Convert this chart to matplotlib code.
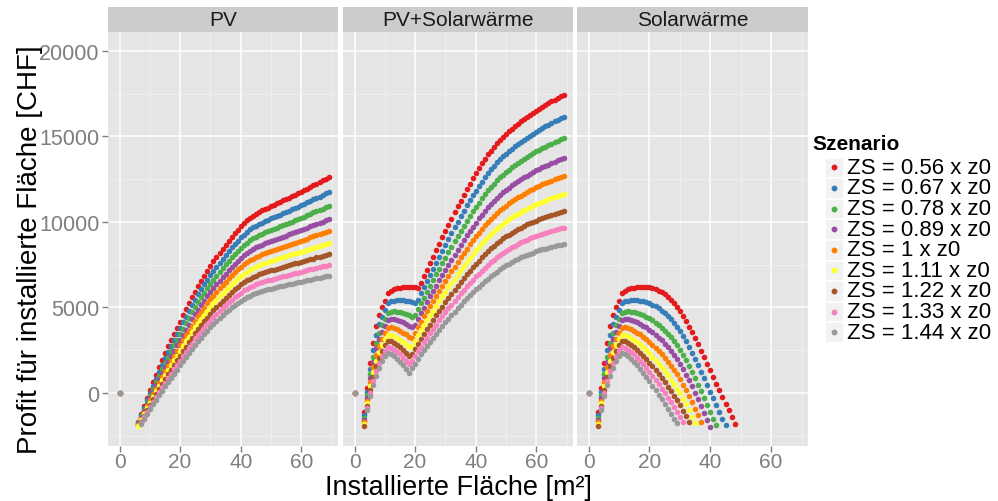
import numpy as np
import matplotlib.pyplot as plt
from matplotlib.patches import Rectangle

plt.rcParams['font.family'] = ['Liberation Sans', 'DejaVu Sans']

szenarien = ['ZS = 0.56 x z0', 'ZS = 0.67 x z0', 'ZS = 0.78 x z0', 'ZS = 0.89 x z0',
             'ZS = 1 x z0', 'ZS = 1.11 x z0', 'ZS = 1.22 x z0', 'ZS = 1.33 x z0',
             'ZS = 1.44 x z0']
farben = ['#E41A1C', '#377EB8', '#4DAF4A', '#984EA3', '#FF7F00',
          '#FFFF33', '#A65628', '#F781BF', '#999999']
facetten = ['PV', 'PV+Solarwärme', 'Solarwärme']

# no installation -> no profit
flaeche_null = 0
profit_null = 0

# profit in CHF per installed area, 1 m2 steps; first area of each list below
start_pv = 6
profit_pv = [
    [-1670, -1210, -750, -290, 170, 620, 1060, 1500, 1940, 2340,
     2720, 3090, 3460, 3820, 4170, 4530, 4880, 5240, 5590, 5930,
     6250, 6560, 6860, 7150, 7430, 7700, 7950, 8190, 8430, 8660,
     8900, 9130, 9350, 9550, 9750, 9930, 10090, 10240, 10370, 10480,
     10580, 10670, 10760, 10840, 10920, 11010, 11090, 11170, 11260, 11340,
     11420, 11510, 11590, 11670, 11760, 11850, 11950, 12040, 12140, 12230,
     12320, 12420, 12510, 12600],
    [-1740, -1300, -860, -430, 0, 420, 840, 1250, 1660, 2050,
     2410, 2760, 3110, 3450, 3790, 4120, 4460, 4800, 5130, 5460,
     5760, 6060, 6350, 6620, 6890, 7150, 7390, 7620, 7840, 8070,
     8290, 8510, 8710, 8910, 9090, 9260, 9420, 9560, 9680, 9780,
     9880, 9960, 10040, 10120, 10200, 10280, 10360, 10430, 10510, 10590,
     10660, 10740, 10820, 10890, 10970, 11050, 11140, 11230, 11310, 11400,
     11480, 11570, 11660, 11740],
    [-1800, -1380, -970, -560, -150, 250, 640, 1020, 1410, 1770,
     2110, 2450, 2780, 3110, 3430, 3750, 4070, 4390, 4710, 5020,
     5310, 5590, 5870, 6130, 6390, 6630, 6860, 7090, 7300, 7510,
     7730, 7930, 8130, 8310, 8480, 8640, 8790, 8920, 9040, 9130,
     9220, 9300, 9380, 9450, 9520, 9600, 9670, 9740, 9810, 9880,
     9950, 10020, 10090, 10160, 10230, 10310, 10390, 10470, 10550, 10620,
     10700, 10780, 10860, 10930],
    [-1850, -1460, -1070, -680, -300, 70, 440, 800, 1160, 1510,
     1830, 2150, 2470, 2780, 3080, 3390, 3690, 4000, 4300, 4600,
     4870, 5140, 5400, 5650, 5900, 6140, 6360, 6570, 6780, 6980,
     7180, 7370, 7560, 7730, 7890, 8040, 8180, 8310, 8420, 8510,
     8590, 8670, 8740, 8810, 8870, 8940, 9010, 9070, 9140, 9200,
     9270, 9330, 9400, 9460, 9520, 9590, 9670, 9740, 9810, 9880,
     9950, 10020, 10090, 10150],
    [-1900, -1530, -1160, -790, -430, -80, 260, 610, 950, 1270,
     1580, 1890, 2190, 2480, 2780, 3070, 3360, 3650, 3940, 4220,
     4480, 4740, 4990, 5230, 5470, 5690, 5910, 6110, 6310, 6510,
     6700, 6880, 7050, 7220, 7370, 7510, 7640, 7760, 7860, 7950,
     8030, 8100, 8170, 8230, 8290, 8360, 8420, 8480, 8540, 8600,
     8660, 8720, 8780, 8830, 8890, 8960, 9020, 9090, 9150, 9210,
     9280, 9340, 9400, 9460],
    [-1960, -1600, -1250, -900, -560, -230, 90, 410, 730, 1040,
     1330, 1620, 1910, 2190, 2470, 2750, 3030, 3300, 3570, 3840,
     4100, 4340, 4580, 4810, 5040, 5250, 5460, 5660, 5850, 6030,
     6210, 6380, 6550, 6700, 6850, 6980, 7100, 7210, 7310, 7390,
     7470, 7540, 7600, 7660, 7720, 7770, 7830, 7890, 7940, 8000,
     8050, 8100, 8160, 8210, 8260, 8320, 8380, 8440, 8490, 8550,
     8610, 8670, 8720, 8770],
    [-2010, -1670, -1340, -1010, -690, -380, -80, 220, 520, 810,
     1090, 1370, 1640, 1910, 2170, 2440, 2700, 2970, 3230, 3480,
     3720, 3960, 4190, 4400, 4620, 4830, 5030, 5220, 5400, 5580,
     5750, 5910, 6070, 6210, 6350, 6470, 6590, 6690, 6780, 6860,
     6930, 6990, 7050, 7110, 7160, 7210, 7270, 7320, 7370, 7420,
     7470, 7520, 7570, 7610, 7660, 7710, 7760, 7810, 7860, 7920,
     7970, 8020, 8060, 8110],
    [-2050, -1740, -1420, -1110, -810, -520, -240, 40, 320, 600,
     860, 1120, 1390, 1640, 1890, 2140, 2400, 2650, 2890, 3140,
     3370, 3590, 3810, 4020, 4230, 4420, 4610, 4800, 4980, 5140,
     5300, 5450, 5600, 5740, 5870, 5990, 6090, 6190, 6280, 6350,
     6420, 6470, 6530, 6580, 6630, 6680, 6730, 6770, 6820, 6860,
     6910, 6950, 7000, 7040, 7080, 7120, 7170, 7220, 7260, 7310,
     7350, 7400, 7440, 7470],
    [-2100, -1800, -1500, -1210, -930, -660, -400, -140, 120, 380,
     630, 880, 1130, 1370, 1610, 1850, 2090, 2330, 2560, 2790,
     3010, 3220, 3430, 3630, 3830, 4020, 4200, 4380, 4550, 4710,
     4860, 5000, 5140, 5270, 5390, 5500, 5600, 5690, 5770, 5840,
     5900, 5960, 6010, 6060, 6100, 6150, 6190, 6230, 6270, 6310,
     6350, 6390, 6430, 6470, 6500, 6540, 6580, 6620, 6660, 6700,
     6740, 6780, 6810, 6840],
]

start_kombi = 3
profit_kombi = [
    [-1100, 300, 1750, 2950, 3900, 4550, 5000, 5400, 5850, 5980,
     6060, 6120, 6160, 6190, 6210, 6210, 6200, 6170, 6120, 6450,
     6830, 7210, 7590, 7970, 8350, 8720, 9090, 9460, 9830, 10190,
     10550, 10900, 11250, 11590, 11920, 12240, 12550, 12850, 13140, 13420,
     13690, 13940, 14170, 14390, 14600, 14790, 14970, 15140, 15300, 15450,
     15600, 15740, 15880, 16010, 16140, 16270, 16390, 16510, 16620, 16730,
     16840, 16950, 17050, 17150, 17250, 17350, 17440],
    [-1280, 80, 1420, 2530, 3410, 4020, 4460, 4850, 5260, 5350,
     5400, 5420, 5420, 5410, 5390, 5350, 5300, 5240, 5460, 5820,
     6180, 6540, 6900, 7260, 7620, 7970, 8310, 8660, 9010, 9340,
     9680, 10010, 10340, 10650, 10960, 11260, 11550, 11830, 12100, 12360,
     12620, 12850, 13070, 13280, 13480, 13660, 13830, 13990, 14140, 14280,
     14420, 14560, 14690, 14810, 14930, 15050, 15160, 15270, 15380, 15480,
     15580, 15680, 15770, 15870, 15960, 16050, 16130],
    [-1440, -130, 1110, 2130, 2940, 3530, 3960, 4330, 4700, 4760,
     4770, 4760, 4720, 4680, 4620, 4550, 4460, 4540, 4890, 5230,
     5570, 5920, 6260, 6600, 6930, 7260, 7590, 7910, 8240, 8550,
     8870, 9170, 9480, 9780, 10070, 10350, 10620, 10880, 11130, 11380,
     11620, 11840, 12040, 12240, 12430, 12600, 12760, 12910, 13060, 13190,
     13320, 13450, 13570, 13690, 13800, 13910, 14020, 14120, 14220, 14310,
     14400, 14500, 14580, 14670, 14750, 14830, 14910],
    [-1560, -290, 870, 1830, 2600, 3160, 3580, 3940, 4280, 4310,
     4300, 4260, 4200, 4130, 4050, 3940, 3830, 4000, 4340, 4670,
     4990, 5310, 5640, 5960, 6270, 6580, 6890, 7200, 7500, 7790,
     8090, 8370, 8660, 8940, 9210, 9470, 9720, 9960, 10200, 10430,
     10650, 10860, 11050, 11240, 11410, 11580, 11730, 11880, 12010, 12140,
     12260, 12380, 12500, 12610, 12710, 12820, 12910, 13010, 13100, 13190,
     13270, 13350, 13430, 13510, 13590, 13660, 13730],
    [-1700, -450, 620, 1500, 2220, 2750, 3170, 3520, 3820, 3830,
     3790, 3730, 3640, 3530, 3420, 3290, 3210, 3530, 3850, 4160,
     4470, 4780, 5080, 5390, 5690, 5980, 6270, 6560, 6840, 7120,
     7390, 7660, 7930, 8190, 8440, 8690, 8920, 9150, 9370, 9580,
     9790, 9990, 10170, 10350, 10510, 10670, 10820, 10950, 11080, 11200,
     11320, 11430, 11540, 11650, 11740, 11840, 11930, 12020, 12100, 12190,
     12260, 12340, 12410, 12490, 12550, 12620, 12680],
    [-1820, -610, 390, 1200, 1870, 2380, 2800, 3130, 3400, 3380,
     3320, 3230, 3120, 2980, 2840, 2680, 2740, 3050, 3360, 3660,
     3950, 4240, 4530, 4820, 5100, 5380, 5650, 5920, 6180, 6440,
     6690, 6940, 7190, 7440, 7680, 7900, 8120, 8340, 8540, 8740,
     8940, 9120, 9290, 9460, 9610, 9760, 9900, 10030, 10150, 10270,
     10380, 10490, 10590, 10680, 10770, 10860, 10950, 11030, 11110, 11180,
     11250, 11320, 11390, 11460, 11520, 11580, 11640],
    [-1920, -740, 190, 950, 1580, 2070, 2480, 2800, 3050, 3010,
     2930, 2820, 2680, 2530, 2360, 2180, 2300, 2590, 2890, 3170,
     3450, 3730, 4000, 4270, 4540, 4800, 5050, 5300, 5550, 5790,
     6030, 6260, 6490, 6720, 6940, 7150, 7360, 7550, 7740, 7930,
     8110, 8290, 8450, 8600, 8750, 8890, 9030, 9150, 9260, 9370,
     9480, 9580, 9670, 9760, 9850, 9930, 10010, 10080, 10150, 10230,
     10290, 10350, 10410, 10470, 10530, 10580, 10630],
    [-2030, -870, 0, 700, 1290, 1760, 2170, 2480, 2700, 2640,
     2540, 2400, 2250, 2070, 1880, 1670, 1880, 2160, 2440, 2710,
     2980, 3240, 3500, 3750, 4000, 4240, 4480, 4720, 4940, 5170,
     5390, 5600, 5820, 6040, 6240, 6440, 6620, 6810, 6980, 7150,
     7330, 7490, 7640, 7790, 7930, 8060, 8190, 8310, 8410, 8520,
     8610, 8710, 8800, 8880, 8960, 9030, 9110, 9180, 9240, 9310,
     9360, 9420, 9480, 9530, 9580, 9630, 9670],
    [-2130, -1000, -200, 450, 1000, 1450, 1850, 2150, 2350, 2270,
     2150, 1990, 1810, 1610, 1400, 1180, 1450, 1720, 1990, 2250,
     2500, 2750, 2990, 3230, 3460, 3690, 3910, 4130, 4340, 4550,
     4750, 4950, 5150, 5350, 5540, 5720, 5890, 6060, 6220, 6380,
     6540, 6690, 6830, 6970, 7100, 7230, 7350, 7460, 7560, 7660,
     7750, 7840, 7920, 8000, 8070, 8140, 8210, 8270, 8330, 8390,
     8440, 8490, 8540, 8590, 8630, 8670, 8710],
]

start_solar = 3
profit_solar = [
    [-1100, 300, 1750, 2950, 3900, 4550, 5000, 5400, 5850, 5980,
     6060, 6120, 6160, 6190, 6210, 6210, 6200, 6170, 6120, 6060,
     5980, 5890, 5770, 5630, 5460, 5260, 5030, 4770, 4490, 4200,
     3880, 3550, 3200, 2840, 2470, 2090, 1710, 1320, 930, 540,
     150, -240, -630, -1020, -1410, -1800],
    [-1280, 80, 1420, 2530, 3410, 4020, 4460, 4850, 5260, 5350,
     5400, 5420, 5420, 5410, 5390, 5350, 5300, 5240, 5150, 5060,
     4950, 4820, 4680, 4510, 4320, 4110, 3870, 3610, 3320, 3020,
     2690, 2350, 1990, 1620, 1250, 860, 470, 70, -320, -720,
     -1110, -1510, -1900],
    [-1440, -130, 1110, 2130, 2940, 3530, 3960, 4330, 4700, 4760,
     4770, 4760, 4720, 4680, 4620, 4550, 4460, 4360, 4240, 4110,
     3970, 3820, 3650, 3460, 3260, 3030, 2780, 2510, 2210, 1910,
     1570, 1220, 860, 480, 90, -300, -700, -1100, -1500, -1900],
    [-1560, -290, 870, 1830, 2600, 3160, 3580, 3940, 4280, 4310,
     4300, 4260, 4200, 4130, 4050, 3940, 3830, 3700, 3560, 3410,
     3240, 3070, 2880, 2670, 2450, 2220, 1970, 1690, 1390, 1070,
     730, 380, 0, -380, -770, -1170, -1580, -1980],
    [-1700, -450, 620, 1500, 2220, 2750, 3170, 3520, 3820, 3830,
     3790, 3730, 3640, 3530, 3420, 3290, 3140, 2990, 2810, 2640,
     2450, 2250, 2040, 1820, 1590, 1340, 1080, 800, 490, 170,
     -180, -540, -920, -1310, -1710],
    [-1820, -610, 390, 1200, 1870, 2380, 2800, 3130, 3400, 3380,
     3320, 3230, 3120, 2980, 2840, 2680, 2510, 2330, 2130, 1930,
     1720, 1500, 1270, 1030, 780, 530, 260, -30, -340, -670,
     -1020, -1390, -1770],
    [-1920, -740, 190, 950, 1580, 2070, 2480, 2800, 3050, 3010,
     2930, 2820, 2680, 2530, 2360, 2180, 1980, 1780, 1560, 1340,
     1110, 870, 630, 370, 120, -150, -420, -710, -1030, -1360,
     -1720],
    [-2030, -870, 0, 700, 1290, 1760, 2170, 2480, 2700, 2640,
     2540, 2400, 2250, 2070, 1880, 1670, 1460, 1230, 990, 750,
     500, 250, -20, -280, -550, -820, -1100, -1400, -1720],
    [-2130, -1000, -200, 450, 1000, 1450, 1850, 2150, 2350, 2270,
     2150, 1990, 1810, 1610, 1400, 1170, 930, 680, 420, 160,
     -110, -380, -660, -940, -1220, -1500, -1780],
]

panel_daten = [(start_pv, profit_pv), (start_kombi, profit_kombi),
               (start_solar, profit_solar)]

# scale limits: points outside are dropped
y_min, y_max = -2000, 20000

W, H = 998, 502
fig = plt.figure(figsize=(W / 100, H / 100), dpi=100)
fig.patch.set_facecolor('white')


def box(left, top, right, bottom):
    return [left / W, 1 - bottom / H, (right - left) / W, (bottom - top) / H]


panels = [(108, 338), (343, 573), (577, 808)]
p_top, p_bottom, s_top = 33, 447, 8
grau_text = '#7F7F7F'

for i, ((links, rechts), (start, werte)) in enumerate(zip(panels, panel_daten)):
    ax = fig.add_axes(box(links, p_top, rechts, p_bottom))
    ax.set_facecolor('#E5E5E5')
    for sp in ax.spines.values():
        sp.set_visible(False)
    ax.set_xlim(-3.8, 72.1)
    ax.set_ylim(-3100, 21100)
    ax.set_xticks([0, 20, 40, 60])
    ax.set_xticks([10, 30, 50, 70], minor=True)
    ax.set_yticks([0, 5000, 10000, 15000, 20000])
    ax.set_yticks([-2500, 2500, 7500, 12500, 17500], minor=True)
    ax.grid(which='major', color='white', linewidth=1.1)
    ax.grid(which='minor', color='#F2F2F2', linewidth=0.5)
    ax.set_axisbelow(True)
    ax.tick_params(which='major', color=grau_text, length=4, width=1,
                   labelsize=15.5, labelcolor=grau_text, pad=2)
    ax.tick_params(axis='x', labelsize=15, pad=0.5)
    ax.tick_params(which='minor', length=0)
    if i > 0:
        ax.tick_params(axis='y', labelleft=False, length=0)

    for k, reihe in enumerate(werte):
        x = np.concatenate(([flaeche_null], start + np.arange(len(reihe))))
        y = np.concatenate(([profit_null], reihe))
        drin = (y >= y_min) & (y <= y_max)
        ax.scatter(x[drin], y[drin], s=16, color=farben[k], linewidths=0,
                   zorder=3, clip_on=False)

    # facet strip
    fig.add_artist(Rectangle((links / W, 1 - p_top / H), (rechts - links) / W,
                             (p_top - s_top) / H, transform=fig.transFigure,
                             facecolor='#CCCCCC', edgecolor='none'))
    fig.text((links + rechts) / 2 / W, 1 - (s_top + p_top) / 2 / H, facetten[i],
             ha='center', va='center', fontsize=15, color='#1A1A1A')

fig.text(458 / W, 1 - 488 / H, 'Installierte Fläche [m²]', ha='center',
         va='center', fontsize=19.5)
fig.text(30 / W, 1 - 250 / H, 'Profit für installierte Fläche [CHF]',
         ha='center', va='center', rotation=90, fontsize=20)

# legend
fig.text(812 / W, 1 - 145 / H, 'Szenario', ha='left', va='center',
         fontsize=15, fontweight='bold')
for k, name in enumerate(szenarien):
    yc = 168.3 + k * 20.6
    fig.add_artist(Rectangle((825 / W, 1 - (yc + 9.8) / H), 18 / W, 19.6 / H,
                             transform=fig.transFigure, facecolor='#F2F2F2',
                             edgecolor='white', linewidth=0.6))
    fig.add_artist(plt.Line2D([834.3 / W], [1 - yc / H], marker='o',
                              markersize=3.2, color=farben[k], linewidth=0,
                              transform=fig.transFigure))
    fig.text(846.7 / W, 1 - yc / H, name, ha='left', va='center', fontsize=16)

fig.savefig('out.png', dpi=100)
